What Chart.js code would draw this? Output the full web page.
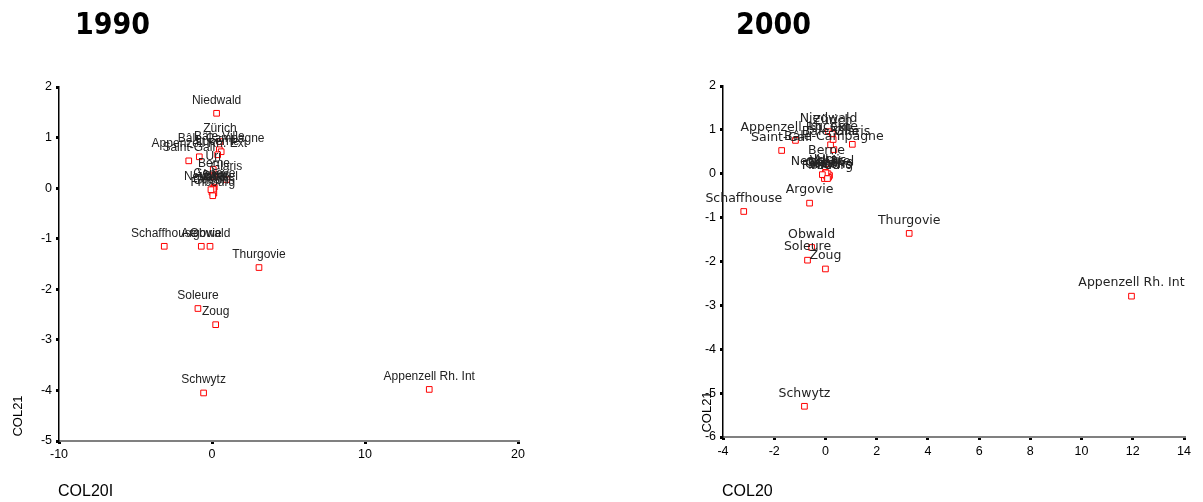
<!DOCTYPE html>
<html>
<head>
<meta charset="utf-8">
<script src="https://cdn.jsdelivr.net/npm/chart.js@4.4.1/dist/chart.umd.min.js"></script>
<style>
body { margin: 0; background: #fff; width: 1203px; height: 502px; overflow: hidden; position: relative; }
.box { position: absolute; top: 0; height: 502px; }
.year { position: absolute; top: 6px; font: bold 30px "DejaVu Sans Condensed", "DejaVu Sans", sans-serif; color: #000; z-index: 2; }
</style>
</head>
<body>
<div class="year" style="left:75px">1990</div>
<div class="year" style="left:736px">2000</div>
<div class="box" style="left:0;width:560px"><canvas id="chart1990" width="560" height="502"></canvas></div>
<div class="box" style="left:640px;width:563px"><canvas id="chart2000" width="563" height="502"></canvas></div>
<script>
// 1990
const cantons1990 = ['Schwytz', 'Appenzell Rh. Int', 'Zoug', 'Soleure', 'Thurgovie', 'Schaffhouse', 'Argovie', 'Obwald',
    'Niedwald', 'Zürich', 'Bâle-Ville', 'Bâle-Campagne', 'Appenzell Rh. Ext', 'Saint-Gall', 'Lucerne', 'Uri', 'Berne',
    'Glaris', 'Genève', 'Vaud', 'Valais', 'Tessin', 'Grisons', 'Jura', 'Neuchâtel', 'Fribourg'];
const col20i1990 = [-0.55, 14.2, 0.24, -0.92, 3.07, -3.12, -0.7, -0.13,
    0.3, 0.52, 0.48, 0.6, -0.83, -1.52, 0.37, 0.08, 0.13,
    0.95, 0.15, 0.05, 0.1, 0.0, 0.12, 0.08, -0.07, 0.05];
const col21_1990 = [-4.05, -3.98, -2.7, -2.38, -1.57, -1.15, -1.15, -1.15,
    1.48, 0.92, 0.76, 0.72, 0.62, 0.54, 0.66, 0.37, 0.23,
    0.17, 0.02, -0.05, 0.0, -0.08, -0.1, -0.02, -0.03, -0.15];

// 2000
const cantons2000 = ['Schwytz', 'Appenzell Rh. Int', 'Zoug', 'Soleure', 'Obwald', 'Thurgovie', 'Argovie', 'Schaffhouse',
    'Saint-Gall', 'Appenzell Rh. Ext', 'Bâle-Campagne', 'Glaris', 'Bâle-Ville', 'Niedwald', 'Zürich', 'Lucerne', 'Berne',
    'Uri', 'Genève', 'Vaud', 'Valais', 'Tessin', 'Grisons', 'Jura', 'Neuchâtel', 'Fribourg'];
const col20_2000 = [-0.82, 11.95, 0.0, -0.7, -0.54, 3.27, -0.62, -3.19,
    -1.71, -1.17, 0.33, 1.05, 0.2, 0.12, 0.27, 0.3, 0.04,
    0.0, 0.16, -0.04, 0.1, 0.05, 0.12, 0.02, -0.12, 0.08];
const col21_2000 = [-5.3, -2.79, -2.17, -1.97, -1.68, -1.36, -0.67, -0.86,
    0.53, 0.76, 0.55, 0.67, 0.66, 0.96, 0.91, 0.78, 0.23,
    0.03, -0.04, -0.11, 0.0, -0.06, -0.08, 0.02, -0.02, -0.11];

const pointLabels = {
    id: 'pointLabels',
    afterDatasetsDraw(chart, args, opts) {
        const ctx = chart.ctx;
        const meta = chart.getDatasetMeta(0);
        ctx.save();
        ctx.font = opts.font;
        ctx.fillStyle = '#222';
        ctx.textAlign = 'center';
        ctx.textBaseline = 'middle';
        meta.data.forEach((pt, i) => {
            ctx.fillText(chart.data.labels[i], pt.x, pt.y - 13);
        });
        ctx.restore();
    }
};

const axisNames = {
    id: 'axisNames',
    afterDraw(chart, args, opts) {
        const ctx = chart.ctx;
        const area = chart.chartArea;
        ctx.save();
        ctx.fillStyle = '#000';
        ctx.font = '16px "Liberation Sans", Arial, sans-serif';
        ctx.textAlign = 'left';
        ctx.textBaseline = 'middle';
        ctx.fillText(opts.xName, area.left - 1, 492);
        ctx.font = '13px "Liberation Sans", Arial, sans-serif';
        ctx.translate(area.left - opts.yOffset, area.bottom - 25);
        ctx.rotate(-Math.PI / 2);
        ctx.textAlign = 'center';
        ctx.fillText(opts.yName, 0, 0);
        ctx.restore();
    }
};

function makeChart(id, names, xs, ys, o) {
    const tickFont = { family: '"Liberation Sans", Arial, sans-serif', size: 12.5 };
    return new Chart(document.getElementById(id), {
        type: 'scatter',
        data: {
            labels: names,
            datasets: [{
                data: xs.map((x, i) => ({ x: x, y: ys[i] })),
                pointStyle: 'rect',
                pointRadius: 4,
                pointBorderWidth: 1,
                pointBorderColor: '#ff0000',
                pointBackgroundColor: '#ffffff'
            }]
        },
        options: {
            responsive: false,
            animation: false,
            layout: { padding: { top: o.top, right: o.right, left: 0, bottom: 0 } },
            plugins: {
                legend: { display: false },
                tooltip: { enabled: false },
                pointLabels: { font: o.labelFont },
                axisNames: { xName: o.xName, yName: 'COL21', yOffset: o.yOffset }
            },
            scales: {
                x: {
                    type: 'linear', min: o.xMin, max: o.xMax,
                    ticks: { stepSize: o.xStep, color: '#000', font: tickFont, padding: o.xPad },
                    grid: { display: true, drawOnChartArea: false, drawTicks: true, tickLength: 3, lineWidth: 3, color: '#000' },
                    border: { display: true, color: '#808080', width: 2 },
                    afterFit(s) { s.height = o.xHeight; s.paddingLeft = 0; s.paddingRight = 0; }
                },
                y: {
                    type: 'linear', min: o.yMin, max: o.yMax,
                    ticks: { stepSize: 1, color: '#000', font: tickFont, padding: 4 },
                    grid: { display: true, drawOnChartArea: false, drawTicks: true, tickLength: 3, lineWidth: 3, color: '#000' },
                    border: { display: true, color: '#000', width: 1.5 },
                    afterFit(s) { s.width = o.yWidth; s.paddingTop = 0; s.paddingBottom = 0; }
                }
            }
        },
        plugins: [pointLabels, axisNames]
    });
}

makeChart('chart1990', cantons1990, col20i1990, col21_1990, {
    top: 87, right: 42, yWidth: 59, xHeight: 61, xPad: 3,
    xMin: -10, xMax: 20, xStep: 10, yMin: -5, yMax: 2,
    labelFont: '12px "Liberation Sans", Arial, sans-serif',
    xName: 'COL20I', yOffset: 41
});

makeChart('chart2000', cantons2000, col20_2000, col21_2000, {
    top: 86, right: 19, yWidth: 83, xHeight: 65, xPad: 4,
    xMin: -4, xMax: 14, xStep: 2, yMin: -6, yMax: 2,
    labelFont: '12.5px "DejaVu Sans", Verdana, sans-serif',
    xName: 'COL20', yOffset: 16
});
</script>
</body>
</html>
